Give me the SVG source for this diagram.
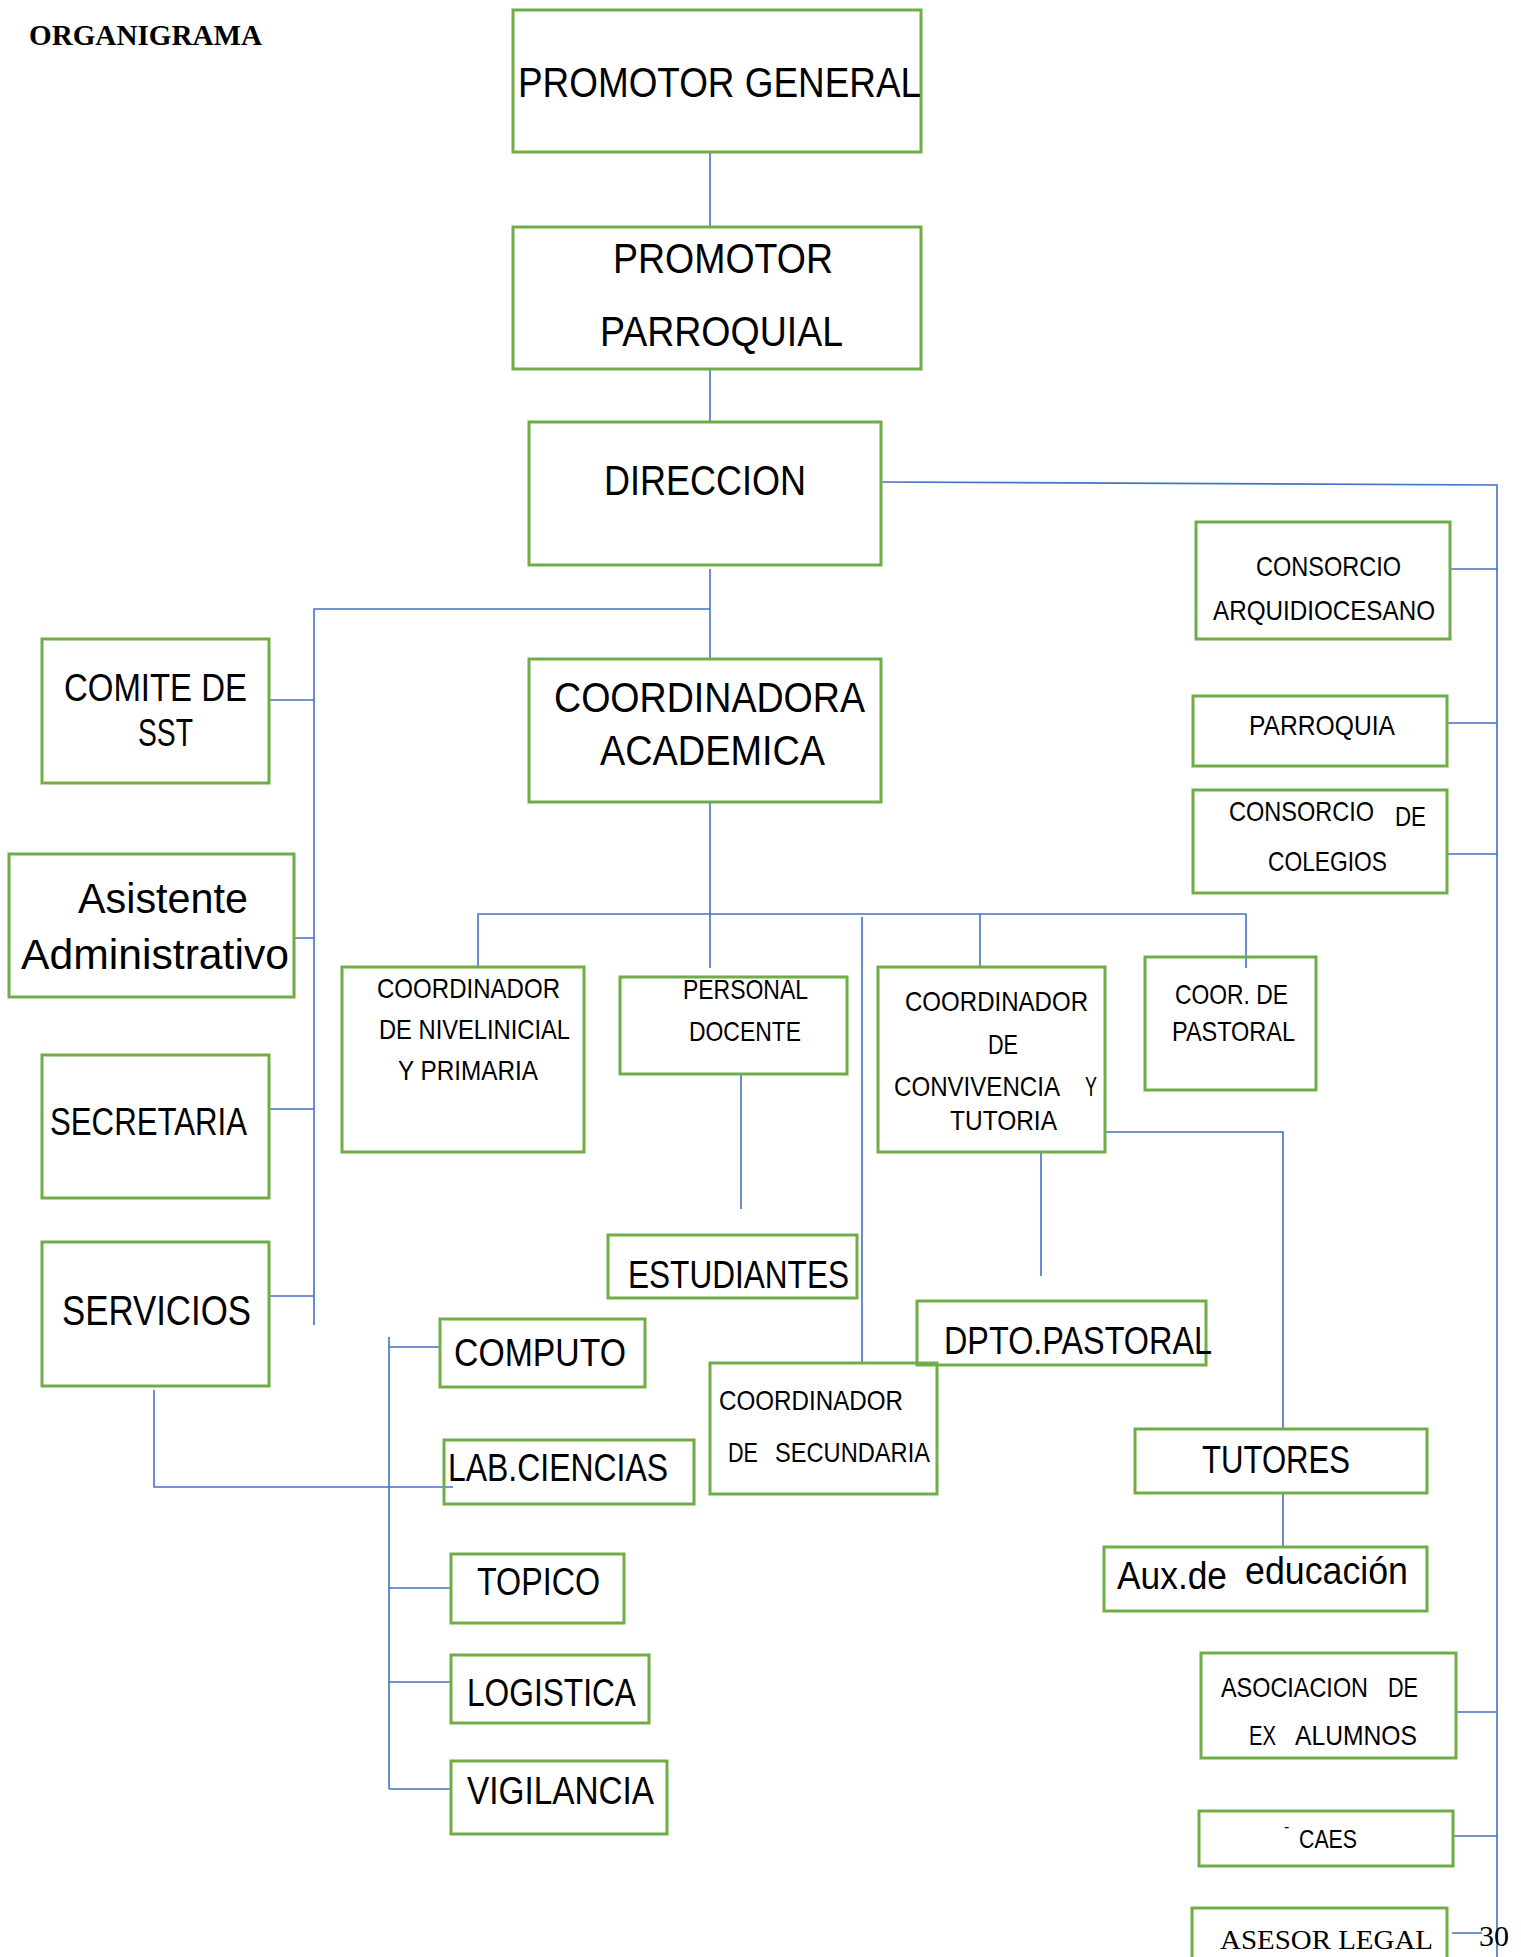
<svg xmlns="http://www.w3.org/2000/svg" width="1521" height="1957" viewBox="0 0 1521 1957">
<style>
.box{fill:none;stroke:#70AD47;stroke-width:3}
.ln{fill:none;stroke:#4472C4;stroke-width:1.6}
text{font-family:"Liberation Sans",Arial,sans-serif;fill:#000}
.serif{font-family:"Liberation Serif","Times New Roman",serif}
.xl{font-size:43px}
.l{font-size:38px}
.s{font-size:27.5px}
</style>
<rect width="1521" height="1957" fill="#fff"/>
<text class="serif" x="29" y="45" font-size="29" font-weight="bold" textLength="233" lengthAdjust="spacingAndGlyphs">ORGANIGRAMA</text>

<g id="connectors">
<path class="ln" d="M710 152V227M710 369V422"/>
<path class="ln" d="M881 482L1497 485V1957"/>
<path class="ln" d="M1450 569H1497M1447 723H1497M1447 854H1497M1456 1712H1497M1453 1836H1497M1452 1933H1482"/>
<path class="ln" d="M710 569V659"/>
<path class="ln" d="M710 609H314V1325M269 700H314M294 938H314M269 1109H314M269 1296H314"/>
<path class="ln" d="M154 1390V1487H453"/>
<path class="ln" d="M389 1337V1789M389 1347H440M389 1588H451M389 1682H451M389 1789H451"/>
<path class="ln" d="M710 802V968M478 967V914H1246V968M980 914V967M862 917V1363"/>
<path class="ln" d="M741 1074V1209"/>
<path class="ln" d="M1041 1152V1276M1105 1132H1283V1429M1283 1494V1547"/>
</g>

<g id="promotor-general"><rect class="box" x="513" y="10" width="408" height="142"/>
<text class="xl" x="518" y="97" textLength="403" lengthAdjust="spacingAndGlyphs">PROMOTOR GENERAL</text></g>
<g id="promotor-parroquial"><rect class="box" x="513" y="227" width="408" height="142"/>
<text class="xl" x="613" y="273" textLength="220" lengthAdjust="spacingAndGlyphs">PROMOTOR</text>
<text class="xl" x="600" y="346" textLength="243" lengthAdjust="spacingAndGlyphs">PARROQUIAL</text></g>
<g id="direccion"><rect class="box" x="529" y="422" width="352" height="143"/>
<text class="xl" x="604" y="495" textLength="202" lengthAdjust="spacingAndGlyphs">DIRECCION</text></g>
<g id="coordinadora-academica"><rect class="box" x="529" y="659" width="352" height="143"/>
<text class="xl" x="554" y="712" textLength="311" lengthAdjust="spacingAndGlyphs">COORDINADORA</text>
<text class="xl" x="600" y="765" textLength="225" lengthAdjust="spacingAndGlyphs">ACADEMICA</text></g>

<g id="comite-sst"><rect class="box" x="42" y="639" width="227" height="144"/>
<text class="l" x="64" y="701" textLength="183" lengthAdjust="spacingAndGlyphs">COMITE DE</text>
<text class="l" x="138" y="746" textLength="55" lengthAdjust="spacingAndGlyphs">SST</text></g>
<g id="asistente-administrativo"><rect class="box" x="9" y="854" width="285" height="143"/>
<text class="xl" x="78" y="913" textLength="170" lengthAdjust="spacingAndGlyphs">Asistente</text>
<text class="xl" x="21" y="969" textLength="268" lengthAdjust="spacingAndGlyphs">Administrativo</text></g>
<g id="secretaria"><rect class="box" x="42" y="1055" width="227" height="143"/>
<text class="l" x="50" y="1135" textLength="197" lengthAdjust="spacingAndGlyphs">SECRETARIA</text></g>
<g id="servicios"><rect class="box" x="42" y="1242" width="227" height="144"/>
<text class="xl" x="62" y="1325" textLength="189" lengthAdjust="spacingAndGlyphs">SERVICIOS</text></g>

<g id="coordinador-inicial-primaria"><rect class="box" x="342" y="967" width="242" height="185"/>
<text class="s" x="377" y="998" textLength="183" lengthAdjust="spacingAndGlyphs">COORDINADOR</text>
<text class="s" x="379" y="1039" textLength="191" lengthAdjust="spacingAndGlyphs">DE NIVELINICIAL</text>
<text class="s" x="398" y="1080" textLength="140" lengthAdjust="spacingAndGlyphs">Y PRIMARIA</text></g>
<g id="personal-docente"><rect class="box" x="620" y="977" width="227" height="97"/>
<text class="s" x="683" y="999" textLength="125" lengthAdjust="spacingAndGlyphs">PERSONAL</text>
<text class="s" x="689" y="1041" textLength="112" lengthAdjust="spacingAndGlyphs">DOCENTE</text></g>
<g id="coordinador-convivencia"><rect class="box" x="878" y="967" width="227" height="185"/>
<text class="s" x="905" y="1011" textLength="183" lengthAdjust="spacingAndGlyphs">COORDINADOR</text>
<text class="s" x="988" y="1054" textLength="30" lengthAdjust="spacingAndGlyphs">DE</text>
<text class="s" x="894" y="1096" textLength="166" lengthAdjust="spacingAndGlyphs">CONVIVENCIA</text>
<text class="s" x="1085" y="1096" textLength="12" lengthAdjust="spacingAndGlyphs">Y</text>
<text class="s" x="950" y="1130" textLength="107" lengthAdjust="spacingAndGlyphs">TUTORIA</text></g>
<g id="coor-pastoral"><rect class="box" x="1145" y="957" width="171" height="133"/>
<text class="s" x="1175" y="1004" textLength="113" lengthAdjust="spacingAndGlyphs">COOR. DE</text>
<text class="s" x="1172" y="1041" textLength="123" lengthAdjust="spacingAndGlyphs">PASTORAL</text></g>

<g id="estudiantes"><rect class="box" x="608" y="1235" width="249" height="63"/>
<text class="l" x="628" y="1288" textLength="221" lengthAdjust="spacingAndGlyphs">ESTUDIANTES</text></g>
<g id="dpto-pastoral"><rect class="box" x="917" y="1301" width="289" height="64"/>
<text class="l" x="944" y="1354" textLength="268" lengthAdjust="spacingAndGlyphs">DPTO.PASTORAL</text></g>
<g id="coordinador-secundaria"><rect class="box" x="710" y="1363" width="227" height="131"/>
<text class="s" x="719" y="1410" textLength="184" lengthAdjust="spacingAndGlyphs">COORDINADOR</text>
<text class="s" x="728" y="1462" textLength="30" lengthAdjust="spacingAndGlyphs">DE</text>
<text class="s" x="775" y="1462" textLength="155" lengthAdjust="spacingAndGlyphs">SECUNDARIA</text></g>

<g id="computo"><rect class="box" x="440" y="1319" width="205" height="68"/>
<text class="l" x="454" y="1366" textLength="172" lengthAdjust="spacingAndGlyphs">COMPUTO</text></g>
<g id="lab-ciencias"><rect class="box" x="444" y="1440" width="250" height="64"/>
<text class="l" x="448" y="1481" textLength="220" lengthAdjust="spacingAndGlyphs">LAB.CIENCIAS</text></g>
<g id="topico"><rect class="box" x="451" y="1554" width="173" height="69"/>
<text class="l" x="477" y="1595" textLength="123" lengthAdjust="spacingAndGlyphs">TOPICO</text></g>
<g id="logistica"><rect class="box" x="451" y="1655" width="198" height="68"/>
<text class="l" x="467" y="1706" textLength="169" lengthAdjust="spacingAndGlyphs">LOGISTICA</text></g>
<g id="vigilancia"><rect class="box" x="451" y="1761" width="216" height="73"/>
<text class="l" x="467" y="1804" textLength="187" lengthAdjust="spacingAndGlyphs">VIGILANCIA</text></g>

<g id="tutores"><rect class="box" x="1135" y="1429" width="292" height="64"/>
<text class="l" x="1202" y="1473" textLength="148" lengthAdjust="spacingAndGlyphs">TUTORES</text></g>
<g id="aux-educacion"><rect class="box" x="1104" y="1547" width="323" height="64"/>
<text class="l" x="1117" y="1589" textLength="110" lengthAdjust="spacingAndGlyphs">Aux.de</text>
<text class="l" x="1245" y="1584" textLength="163" lengthAdjust="spacingAndGlyphs">educación</text></g>

<g id="consorcio-arquidiocesano"><rect class="box" x="1196" y="522" width="254" height="117"/>
<text class="s" x="1256" y="576" textLength="145" lengthAdjust="spacingAndGlyphs">CONSORCIO</text>
<text class="s" x="1213" y="620" textLength="222" lengthAdjust="spacingAndGlyphs">ARQUIDIOCESANO</text></g>
<g id="parroquia"><rect class="box" x="1193" y="696" width="254" height="70"/>
<text class="s" x="1249" y="735" textLength="146" lengthAdjust="spacingAndGlyphs">PARROQUIA</text></g>
<g id="consorcio-colegios"><rect class="box" x="1193" y="790" width="254" height="103"/>
<text class="s" x="1229" y="821" textLength="145" lengthAdjust="spacingAndGlyphs">CONSORCIO</text>
<text class="s" x="1395" y="826" textLength="31" lengthAdjust="spacingAndGlyphs">DE</text>
<text class="s" x="1268" y="871" textLength="119" lengthAdjust="spacingAndGlyphs">COLEGIOS</text></g>
<g id="asociacion-ex-alumnos"><rect class="box" x="1201" y="1653" width="255" height="105"/>
<text class="s" x="1221" y="1697" textLength="147" lengthAdjust="spacingAndGlyphs">ASOCIACION</text>
<text class="s" x="1388" y="1697" textLength="30" lengthAdjust="spacingAndGlyphs">DE</text>
<text class="s" x="1249" y="1745" textLength="27" lengthAdjust="spacingAndGlyphs">EX</text>
<text class="s" x="1295" y="1745" textLength="122" lengthAdjust="spacingAndGlyphs">ALUMNOS</text></g>
<g id="caes"><rect class="box" x="1199" y="1811" width="254" height="55"/>
<text x="1284" y="1832" font-size="16">-</text>
<text x="1299" y="1848" font-size="26.5" textLength="58" lengthAdjust="spacingAndGlyphs">CAES</text></g>
<g id="asesor-legal"><rect class="box" x="1192" y="1908" width="255" height="60"/>
<text class="serif" x="1220" y="1949" font-size="28" textLength="213" lengthAdjust="spacingAndGlyphs">ASESOR LEGAL</text></g>
<text class="serif" x="1479" y="1946" font-size="30" textLength="30" lengthAdjust="spacingAndGlyphs">30</text>
</svg>
